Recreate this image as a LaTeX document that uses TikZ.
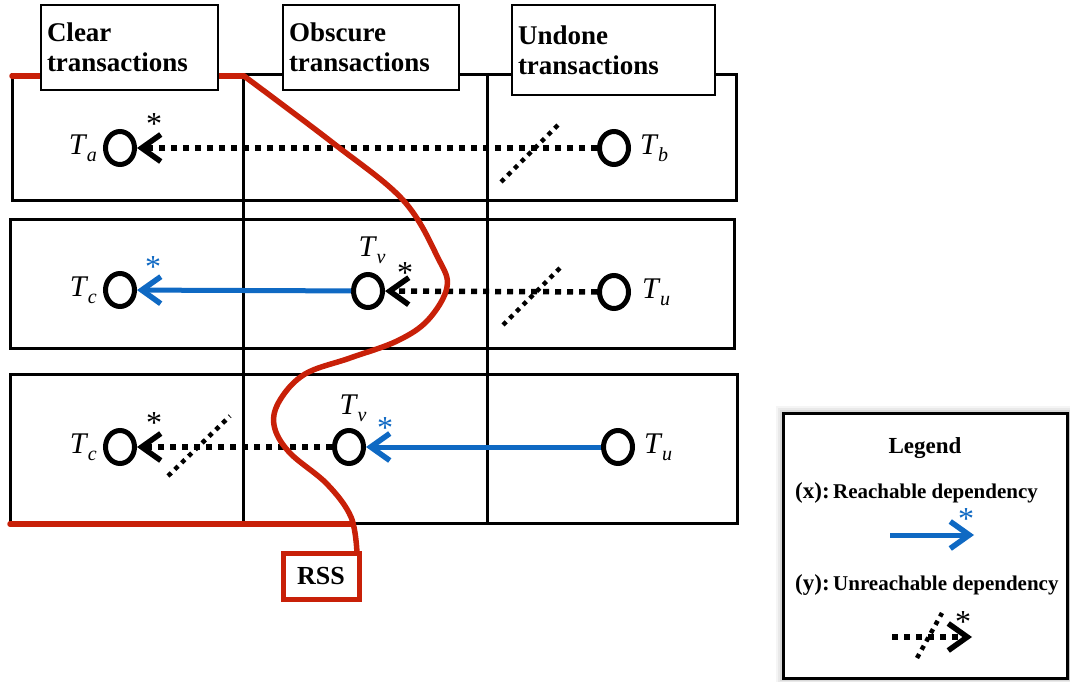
\documentclass[tikz,border=0pt]{standalone}
\usepackage{fontspec}
\setmainfont{Liberation Serif}
\usetikzlibrary{arrows.meta,shapes.geometric}
\definecolor{rssred}{RGB}{200,32,8}
\definecolor{reachblue}{RGB}{15,105,195}

% transaction label: italic T with an italic subscript
\newcommand\tsub[1]{\textit{T}\kern-0.5pt\raisebox{-7pt}{\fontsize{20}{20}\selectfont\textit{#1}}}

\begin{document}
\begin{tikzpicture}[x=1pt,y=-1pt,
  cell/.style={draw=black, line width=3pt},
  hdr/.style={draw=black, line width=2pt, fill=white, anchor=north west, align=left,
    font=\bfseries\fontsize{27}{30}\selectfont, inner xsep=6pt, inner ysep=0pt},
  txn/.style={ellipse, draw=black, line width=5pt, minimum width=29pt, minimum height=33pt, inner sep=0pt},
  tlabel/.style={font=\fontsize{30}{30}\selectfont, inner sep=0pt},
  head/.style={-{Straight Barb[length=19pt,width=27pt,line width=5.5pt]}},
  unreach/.style={draw=black, line width=5.5pt, dash pattern=on 6pt off 6pt, head},
  reach/.style={draw=reachblue, line width=5pt, head},
  slash/.style={draw=black, line width=4.5pt, dash pattern=on 4.5pt off 5pt},
  astk/.style={font=\fontsize{32}{32}\selectfont, inner sep=0pt},
  rssline/.style={draw=rssred, line width=5.5pt, line cap=round, line join=round},
  rssbox/.style={draw=rssred, line width=5pt, fill=white, minimum width=76pt, minimum height=46pt,
      inner sep=0pt, font=\bfseries\fontsize{26}{26}\selectfont},
  legtxt/.style={font=\bfseries\fontsize{21}{21}\selectfont, inner sep=0pt, anchor=base west}
]
\useasboundingbox (0,0) rectangle (1070,682);

% ---- three rows of the transaction table ----
\draw[cell] (12,75) rectangle (736,200);
\draw[cell] (10,219) rectangle (734,348);
\draw[cell] (10,374) rectangle (737,523);
\draw[cell] (243,75) -- (243,523);
\draw[cell] (487,75) -- (487,523);

% ---- transactions ----
\node[txn] (ta)  at (120,148) {};
\node[txn] (tb)  at (614,148) {};
\node[txn] (tc2) at (120,290) {};
\node[txn] (tv2) at (368,291) {};
\node[txn] (tu2) at (614,292) {};
\node[txn] (tc3) at (120,447) {};
\node[txn] (tv3) at (349,447) {};
\node[txn] (tu3) at (618,447) {};

\node[tlabel, anchor=east] at ([xshift=-6pt]ta.west) {\tsub{a}};
\node[tlabel, anchor=west] at ([xshift=9pt]tb.east) {\tsub{b}};
\node[tlabel, anchor=east] at ([xshift=-6pt]tc2.west) {\tsub{c}};
\node[tlabel] at ([xshift=4pt,yshift=41pt]tv2.center) {\tsub{v}};
\node[tlabel, anchor=west] at ([xshift=11pt]tu2.east) {\tsub{u}};
\node[tlabel, anchor=east] at ([xshift=-6pt]tc3.west) {\tsub{c}};
\node[tlabel] at ([xshift=4pt,yshift=39pt]tv3.center) {\tsub{v}};
\node[tlabel, anchor=west] at ([xshift=9pt]tu3.east) {\tsub{u}};

% ---- dependencies ----
\draw[unreach] (tb) -- (ta);
\draw[slash] (501,182) -- (560,123);
\node[astk] at (154,124) {*};

\draw[reach] (tv2) -- (tc2);
\node[astk, text=reachblue] at (153,267) {*};
\draw[unreach] (tu2) -- (tv2);
\draw[slash] (503,325) -- (561,267);
\node[astk] at (405,273) {*};

\draw[unreach] (tv3) -- (tc3);
\draw[slash] (168,476) -- (230,416);
\node[astk] at (154,423) {*};
\draw[reach] (tu3) -- (tv3);
\node[astk, text=reachblue] at (385,428) {*};

% ---- RSS boundary ----
\coordinate (rsscentre) at (321,576);
\coordinate (rssend) at (357,553);
\draw[rssline] (12,76) -- (244,76);
\draw[rssline] (10,524) -- (353,524);
\draw[rssline] plot[smooth, tension=0.6] coordinates {
  (244,76) (333,143) (403,200) (438,258) (447,287) (428,320) (397,341)
  (350,358) (305,374) (280,400) (274,425) (289,452) (327,484) (351,517) (rssend)};
\node[rssbox] (rssbox) at (rsscentre) {RSS};

% ---- column headers ----
\node[hdr, text width=165pt, minimum height=85pt] (hclear) at (40,4) {Clear\\transactions};
\node[hdr, text width=164pt, minimum height=85pt] (hobsc) at (282,4) {Obscure\\transactions};
\node[hdr, text width=191pt, minimum height=90pt] (hundo) at (511,4) {Undone\\transactions};

% ---- legend ----
\foreach \s/\o in {7/0.04,5/0.05,3/0.07,1.5/0.09}
  \fill[black, opacity=\o] (783-\s,413-\s) rectangle (1070,678+\s);
\draw[black, line width=3pt, fill=white] (783,413) rectangle (1067,678);
\node[font=\bfseries\fontsize{23}{23}\selectfont, anchor=base] (legtitle) at (925,453) {Legend};
\node[legtxt] (lx) at (795,498) {{\fontsize{23}{23}\selectfont(x):}\,Reachable dependency};
\coordinate (lxa) at (890,535);
\coordinate (lxb) at (974,535);
\draw[reach] (lxa) -- (lxb);
\node[astk, text=reachblue] at (966,519) {*};
\node[legtxt] (ly) at (795,590) {{\fontsize{23}{23}\selectfont(y):}\,Unreachable dependency};
\coordinate (lya) at (892,637);
\coordinate (lyb) at (972,637);
\draw[unreach] (lya) -- (lyb);
\draw[slash] (917,658) -- (942,613);
\node[astk] at (963,622) {*};
\end{tikzpicture}
\end{document}
